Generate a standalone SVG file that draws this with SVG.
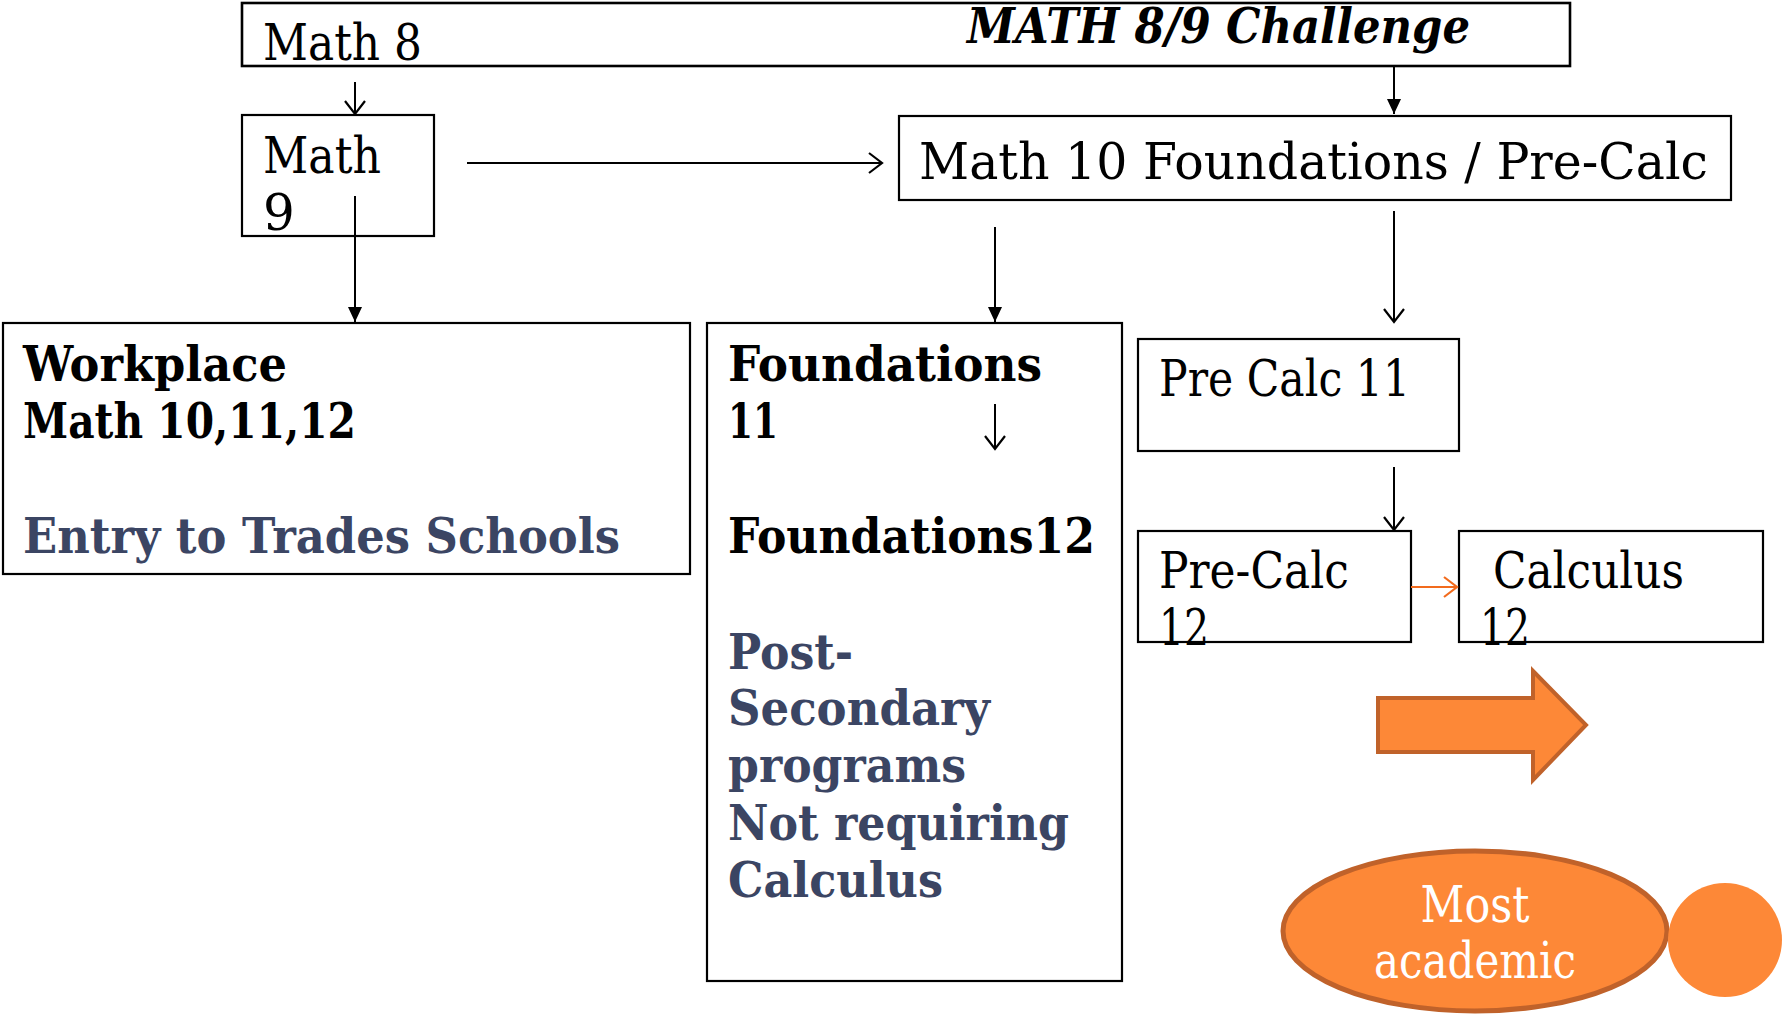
<svg xmlns="http://www.w3.org/2000/svg" width="1783" height="1014" viewBox="0 0 1783 1014">
<style>
.box{fill:#fff;stroke:#000;stroke-width:2.2}
.t{font-family:"DejaVu Serif","Liberation Serif",serif;font-size:50px;fill:#000}
.b{font-family:"DejaVu Serif","Liberation Serif",serif;font-size:48px;font-weight:bold;fill:#000}
.blue{fill:#3b4563}
.w{fill:#fff;text-anchor:middle}
.c{stroke:#000;stroke-width:2;fill:none}
.o{stroke:#f26b1d;stroke-width:2;fill:none}
</style>
<defs>
<marker id="open" markerUnits="userSpaceOnUse" markerWidth="24" markerHeight="24" refX="14" refY="11" orient="auto">
<path d="M1,1 L14,11 L1,21" fill="none" stroke="#000" stroke-width="2.2"/>
</marker>
<marker id="openO" markerUnits="userSpaceOnUse" markerWidth="24" markerHeight="24" refX="14" refY="11" orient="auto">
<path d="M1,1 L14,11 L1,21" fill="none" stroke="#f26b1d" stroke-width="2.2"/>
</marker>
<marker id="fill" markerUnits="userSpaceOnUse" markerWidth="20" markerHeight="20" refX="15" refY="7" orient="auto">
<path d="M0,0 L15,7 L0,14 Z" fill="#000"/>
</marker>
</defs>

<g id="challenge">
<rect class="box" x="242" y="3" width="1328" height="63" style="stroke-width:2.6"/>
<text class="t" x="263" y="60" textLength="159" lengthAdjust="spacingAndGlyphs">Math 8</text>
<text class="b" x="967" y="43" font-style="italic" textLength="503" lengthAdjust="spacingAndGlyphs">MATH 8/9 Challenge</text>
</g>

<g id="math9">
<rect class="box" x="242" y="115" width="192" height="121"/>
<text class="t" x="263" y="173" textLength="118" lengthAdjust="spacingAndGlyphs">Math</text>
<text class="t" x="263" y="230">9</text>
</g>

<g id="math10">
<rect class="box" x="899" y="116" width="832" height="84"/>
<text class="t" x="919" y="179" textLength="789" lengthAdjust="spacingAndGlyphs">Math 10 Foundations / Pre-Calc</text>
</g>

<g id="workplace">
<rect class="box" x="3" y="323" width="687" height="251"/>
<text class="b" x="23" y="381" textLength="264" lengthAdjust="spacingAndGlyphs">Workplace</text>
<text class="b" x="23" y="438" textLength="333" lengthAdjust="spacingAndGlyphs">Math 10,11,12</text>
<text class="b blue" x="23" y="553" textLength="597" lengthAdjust="spacingAndGlyphs">Entry to Trades Schools</text>
</g>

<g id="foundations">
<rect class="box" x="707" y="323" width="415" height="658"/>
<text class="b" x="728" y="381" textLength="314" lengthAdjust="spacingAndGlyphs">Foundations</text>
<text class="b" x="728" y="438" textLength="50" lengthAdjust="spacingAndGlyphs">11</text>
<text class="b" x="728" y="553" textLength="367" lengthAdjust="spacingAndGlyphs">Foundations12</text>
<text class="b blue" x="728" y="669" textLength="125" lengthAdjust="spacingAndGlyphs">Post-</text>
<text class="b blue" x="728" y="725" textLength="262" lengthAdjust="spacingAndGlyphs">Secondary</text>
<text class="b blue" x="728" y="782" textLength="238" lengthAdjust="spacingAndGlyphs">programs</text>
<text class="b blue" x="728" y="840" textLength="341" lengthAdjust="spacingAndGlyphs">Not requiring</text>
<text class="b blue" x="728" y="897" textLength="215" lengthAdjust="spacingAndGlyphs">Calculus</text>
</g>

<g id="precalc11">
<rect class="box" x="1138" y="339" width="321" height="112"/>
<text class="t" x="1159" y="396" textLength="251" lengthAdjust="spacingAndGlyphs">Pre Calc 11</text>
</g>

<g id="precalc12">
<rect class="box" x="1138" y="531" width="273" height="111"/>
<text class="t" x="1159" y="588" textLength="190" lengthAdjust="spacingAndGlyphs">Pre-Calc</text>
<text class="t" x="1159" y="645" textLength="50" lengthAdjust="spacingAndGlyphs">12</text>
</g>

<g id="calculus12">
<rect class="box" x="1459" y="531" width="304" height="111"/>
<text class="t" x="1493" y="588" textLength="191" lengthAdjust="spacingAndGlyphs">Calculus</text>
<text class="t" x="1480" y="645" textLength="50" lengthAdjust="spacingAndGlyphs">12</text>
</g>

<g id="block-arrow">
<polygon points="1378,698 1533,698 1533,671 1586,725 1533,780 1533,752 1378,752" fill="#fd8837" stroke="#c0622a" stroke-width="4"/>
</g>

<g id="most-academic">
<ellipse cx="1475" cy="931" rx="192" ry="80" fill="#fd8837" stroke="#c0622a" stroke-width="5"/>
<text class="t w" x="1475" y="922" textLength="109" lengthAdjust="spacingAndGlyphs">Most</text>
<text class="t w" x="1475" y="978" textLength="202" lengthAdjust="spacingAndGlyphs">academic</text>
</g>

<g id="dot">
<circle cx="1725" cy="940" r="57" fill="#fd8837"/>
</g>

<g id="connectors">
<line class="c" x1="355" y1="82" x2="355" y2="114" marker-end="url(#open)"/>
<line class="c" x1="1394" y1="66" x2="1394" y2="114" marker-end="url(#fill)"/>
<line class="c" x1="467" y1="163" x2="882" y2="163" marker-end="url(#open)"/>
<line class="c" x1="355" y1="196" x2="355" y2="322" marker-end="url(#fill)"/>
<line class="c" x1="995" y1="227" x2="995" y2="322" marker-end="url(#fill)"/>
<line class="c" x1="1394" y1="211" x2="1394" y2="322" marker-end="url(#open)"/>
<line class="c" x1="995" y1="404" x2="995" y2="449" marker-end="url(#open)"/>
<line class="c" x1="1394" y1="467" x2="1394" y2="530" marker-end="url(#open)"/>
<line class="o" x1="1411" y1="587" x2="1457" y2="587" marker-end="url(#openO)"/>
</g>
</svg>
